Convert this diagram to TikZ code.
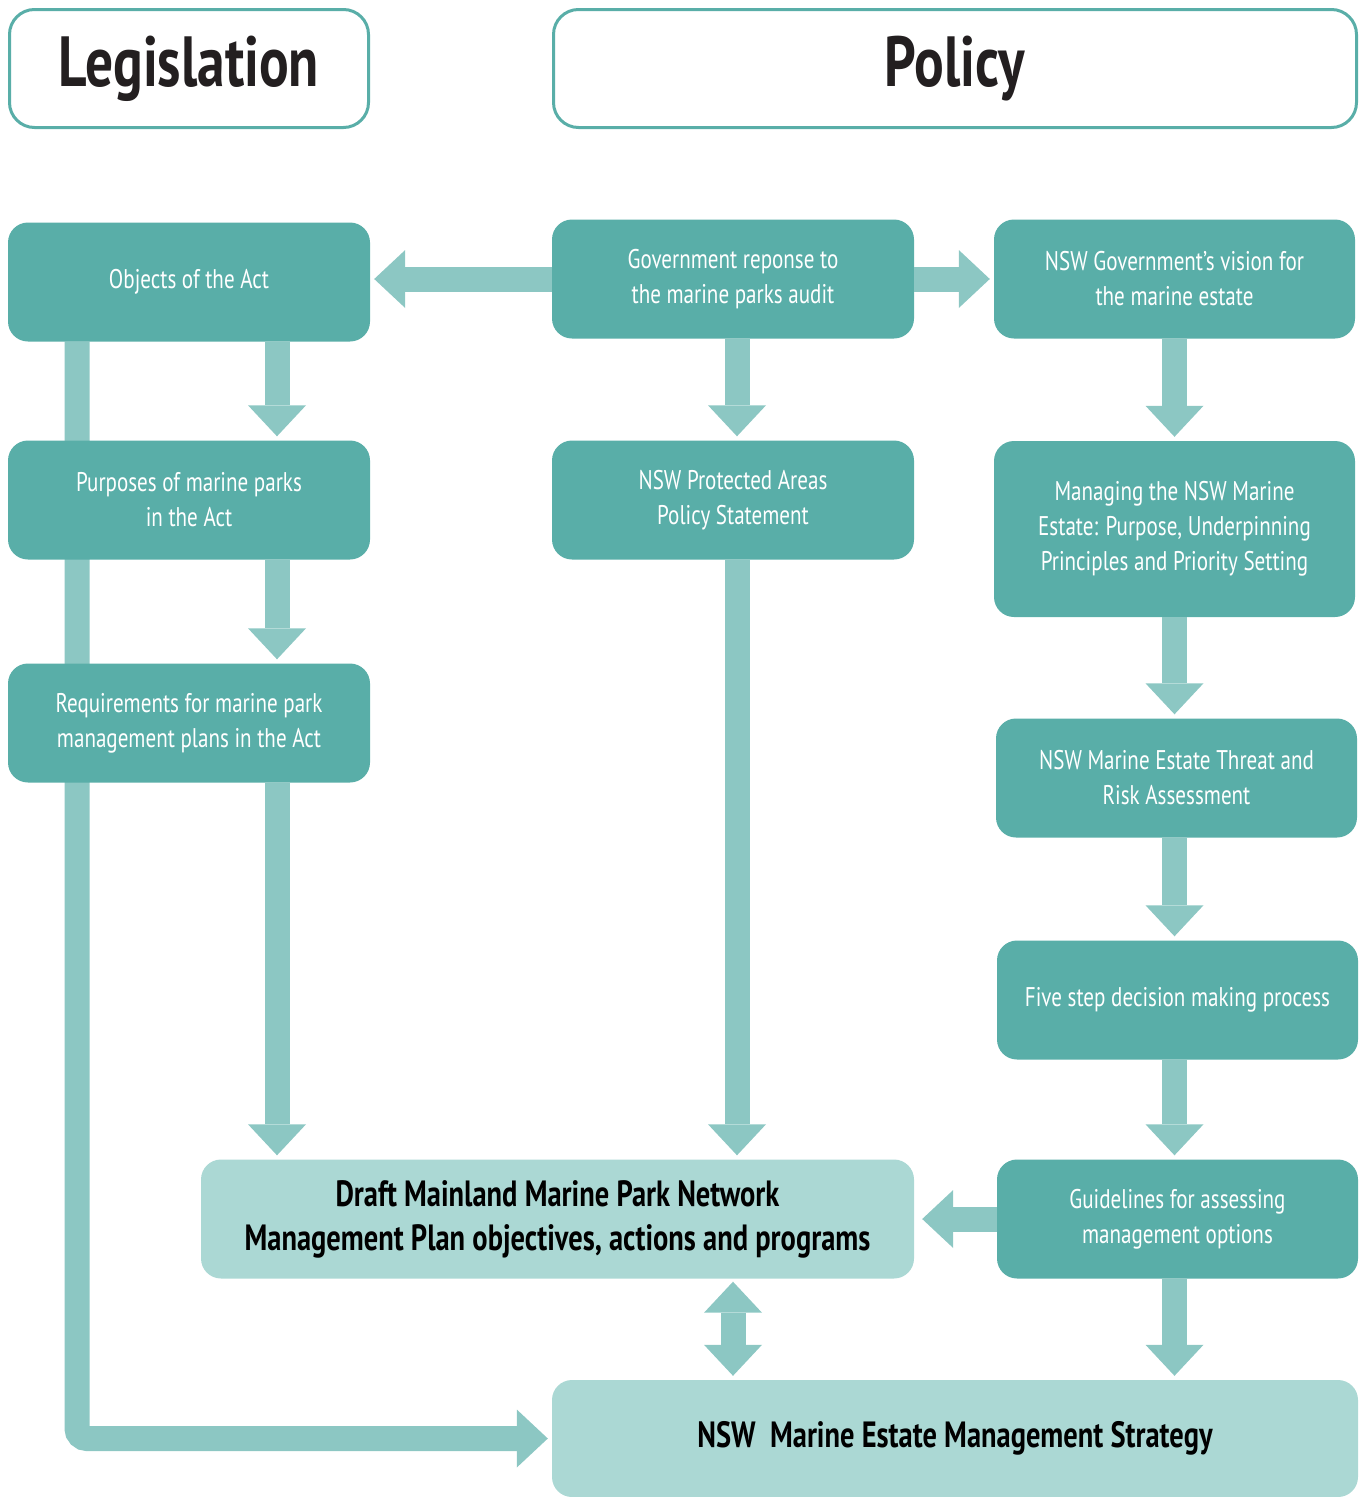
\documentclass[tikz,border=0pt]{standalone}
\usepackage{fontspec}
\setmainfont[FakeStretch=0.78]{PT Sans}
\usepackage{tikz}
\usetikzlibrary{arrows.meta,backgrounds}

\definecolor{darkteal}{HTML}{59AEA8}
\definecolor{lightteal}{HTML}{ABD8D4}
\definecolor{arrowteal}{HTML}{8CC7C3}
\definecolor{headtext}{HTML}{231F20}

\tikzset{
	>={Triangle[width=58pt,length=31pt,line width=0pt]},
	box/.style={rectangle,rounded corners=20pt,fill=darkteal,text=white,inner sep=0pt,
		minimum width=362pt,minimum height=119pt,align=center,font=\fontsize{27}{35}\selectfont},
	lightbox/.style={box,fill=lightteal,text=black,font=\fontsize{36.5}{44}\selectfont\bfseries},
	headbox/.style={rectangle,rounded corners=25pt,draw=darkteal,line width=3pt,fill=white,
		minimum height=118pt,text=headtext,font=\fontsize{71}{72}\selectfont\bfseries},
	fatarrow/.style={draw=arrowteal,line width=25pt,->,shorten >=4pt}
}

\begin{document}
\begin{tikzpicture}[x=1pt,y=-1pt]
	\useasboundingbox (0,0) rectangle (1367,1497);
	
	\node (legislation) [headbox,minimum width=359pt] at (189,68.5) {Legislation};
	\node (policy) [headbox,minimum width=803pt] at (955,68.5) {Policy};
	
	\node (objects) [box] at (189,282) {Objects of the Act};
	\node (purposes) [box] at (189,500) {Purposes of marine parks\\in the Act};
	\node (requirements) [box] at (189,723) {Requirements for marine park\\management plans in the Act};
	
	\node (govt) [box] at (733,279) {Government reponse to\\the marine parks audit};
	\node (protected) [box] at (733,500) {NSW Protected Areas\\Policy Statement};
	
	\node (vision) [box,minimum width=361pt] at (1174.5,279) {NSW Government’s vision for\\the marine estate};
	\node (managing) [box,minimum width=361pt,minimum height=176pt] at (1174.5,529) {Managing the NSW Marine\\Estate: Purpose, Underpinning\\Principles and Priority Setting};
	\node (threat) [box,minimum width=361pt] at (1176.5,778) {NSW Marine Estate Threat and\\Risk Assessment};
	\node (five) [box,minimum width=361pt] at (1177.5,1000) {Five step decision making process};
	\node (guidelines) [box,minimum width=361pt] at (1177.5,1219) {Guidelines for assessing\\management options};
	
	\node (draft) [lightbox,minimum width=713pt] at (557.5,1219) {Draft Mainland Marine Park Network\\Management Plan objectives, actions and programs};
	\node (strategy) [lightbox,minimum width=806pt,minimum height=117pt] at (955,1438.5) {NSW\ \ Marine Estate Management Strategy};
	
	\begin{scope}[on background layer]
		\draw [fatarrow,rounded corners=10pt] ([xshift=-112pt]objects.south) |- (strategy.west);
	\end{scope}
	
	\draw [fatarrow] (govt.west) -- (objects.east |- govt.west);
	\draw [fatarrow] (govt.east) -- (vision.west |- govt.east);
	
	\draw [fatarrow] ([xshift=88pt]objects.south) -- ([xshift=88pt]purposes.north);
	\draw [fatarrow] ([xshift=88pt]purposes.south) -- ([xshift=88pt]requirements.north);
	\draw [fatarrow] ([xshift=88pt]requirements.south) -- ([xshift=88pt]requirements.south |- draft.north);
	
	\draw [fatarrow] ([xshift=4pt]govt.south) -- ([xshift=4pt]protected.north);
	\draw [fatarrow] ([xshift=4pt]protected.south) -- ([xshift=4pt]protected.south |- draft.north);
	
	\draw [fatarrow] (vision.south) -- (managing.north -| vision.south);
	\draw [fatarrow] (managing.south -| vision.south) -- (threat.north -| vision.south);
	\draw [fatarrow] (threat.south -| vision.south) -- (five.north -| vision.south);
	\draw [fatarrow] (five.south -| vision.south) -- (guidelines.north -| vision.south);
	\draw [fatarrow] (guidelines.south -| vision.south) -- (strategy.north -| vision.south);
	
	\draw [fatarrow,shorten >=8pt] (guidelines.west) -- (draft.east |- guidelines.west);
	\draw [fatarrow,<->,shorten <=3pt] (draft.south -| govt.south) -- (strategy.north -| govt.south);
\end{tikzpicture}
\end{document}
